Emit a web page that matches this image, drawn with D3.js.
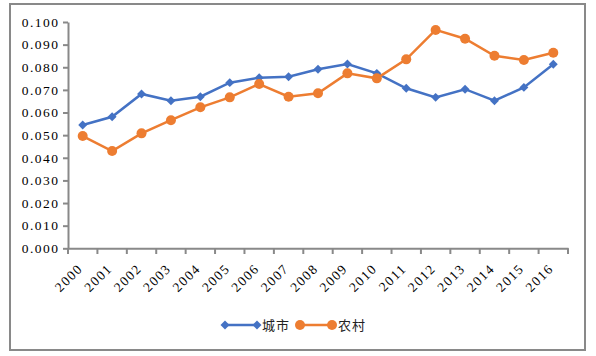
<!DOCTYPE html>
<html><head><meta charset="utf-8">
<script src="https://cdn.jsdelivr.net/npm/d3@7"></script>
<style>body{margin:0;background:#fff}</style>
</head><body>
<svg id="c" width="596" height="356"></svg>
<script>
const years = ["2000","2001","2002","2003","2004","2005","2006","2007","2008","2009","2010","2011","2012","2013","2014","2015","2016"];
const city = [0.0545,0.0581,0.0682,0.0652,0.0670,0.0732,0.0754,0.0758,0.0791,0.0814,0.0773,0.0707,0.0667,0.0703,0.0652,0.0711,0.0813];
const rural = [0.0496,0.0430,0.0508,0.0566,0.0623,0.0667,0.0726,0.0670,0.0685,0.0773,0.0751,0.0835,0.0965,0.0926,0.0851,0.0832,0.0864];
const yTicks = [0,0.01,0.02,0.03,0.04,0.05,0.06,0.07,0.08,0.09,0.10];
const seriesNames = ["城市","农村"];
const colors = ["#4472C4","#ED7D31"];

const svg = d3.select("#c");
svg.append("rect").attr("x",10).attr("y",4).attr("width",575).attr("height",346)
  .attr("fill","#fff").attr("stroke","#898989").attr("stroke-width",2);

const x = d3.scaleBand().domain(years).range([68,568]);
const y = d3.scaleLinear().domain([0,0.1]).range([248.3,22]);
const grey = "#898989";
const serif = "'Liberation Serif', 'Times New Roman', serif";

const ya = svg.append("g").attr("transform","translate(68,0)")
  .call(d3.axisLeft(y).tickValues(yTicks).tickFormat(d3.format(".3f")).tickSize(5).tickSizeOuter(0));
ya.attr("font-family",null).attr("font-size",null);
ya.select(".domain").attr("stroke",grey).attr("stroke-width",2);
ya.selectAll(".tick line").attr("stroke",grey).attr("stroke-width",2);
ya.selectAll("text").style("font-family",serif).style("font-size","13.5px").style("letter-spacing","1.5px")
  .attr("fill","#000").attr("x",-8.5);

const xa = svg.append("g").attr("transform","translate(0,248.3)")
  .call(d3.axisBottom(x).tickSize(0).tickSizeOuter(0));
xa.attr("font-family",null).attr("font-size",null);
xa.select(".domain").attr("stroke",grey).attr("stroke-width",2);
xa.selectAll(".tick line").remove();
xa.selectAll("text").style("font-family",serif).style("font-size","13.5px").style("letter-spacing","1.5px")
  .attr("fill","#000").attr("text-anchor","end").attr("dy",0).attr("y",0)
  .attr("transform","translate(1,21) rotate(-45)");
const bounds = years.map(d=>x(d)).concat([x.range()[1]]);
svg.append("g").selectAll("line").data(bounds).join("line")
  .attr("x1",d=>d).attr("x2",d=>d).attr("y1",248.3).attr("y2",254)
  .attr("stroke",grey).attr("stroke-width",2);

const cx = d => x(d) + x.bandwidth()/2;
const line = d3.line().x((d,i)=>cx(years[i])).y(d=>y(d));
[city, rural].forEach((s,k)=>{
  svg.append("path").datum(s).attr("d",line).attr("fill","none").attr("stroke",colors[k]).attr("stroke-width",2.5);
});
const dia = d3.symbol().type(d3.symbolSquare).size(40);
svg.append("g").selectAll("path").data(city).join("path")
  .attr("d", dia)
  .attr("transform",(d,i)=>`translate(${cx(years[i])},${y(d)}) rotate(45)`).attr("fill",colors[0]);
svg.append("g").selectAll("circle").data(rural).join("circle")
  .attr("cx",(d,i)=>cx(years[i])).attr("cy",d=>y(d)).attr("r",5).attr("fill",colors[1]);

// legend
const lg = svg.append("g").attr("transform","translate(0,325)");
lg.append("line").attr("x1",224).attr("x2",258).attr("stroke",colors[0]).attr("stroke-width",2.5);
lg.append("path").attr("d",dia).attr("transform","translate(225,0) rotate(45)").attr("fill",colors[0]);
lg.append("path").attr("d",dia).attr("transform","translate(257,0) rotate(45)").attr("fill",colors[0]);
lg.append("text").attr("x",262).attr("y",5).text(seriesNames[0]);
lg.append("line").attr("x1",300).attr("x2",333).attr("stroke",colors[1]).attr("stroke-width",2.5);
lg.append("circle").attr("cx",300).attr("r",5).attr("fill",colors[1]);
lg.append("circle").attr("cx",332).attr("r",5).attr("fill",colors[1]);
lg.append("text").attr("x",338).attr("y",5).text(seriesNames[1]);
lg.selectAll("text").style("font-family","'Noto Sans CJK SC', sans-serif").style("font-size","13px").attr("fill","#222").attr("letter-spacing",1);
</script>
</body></html>
